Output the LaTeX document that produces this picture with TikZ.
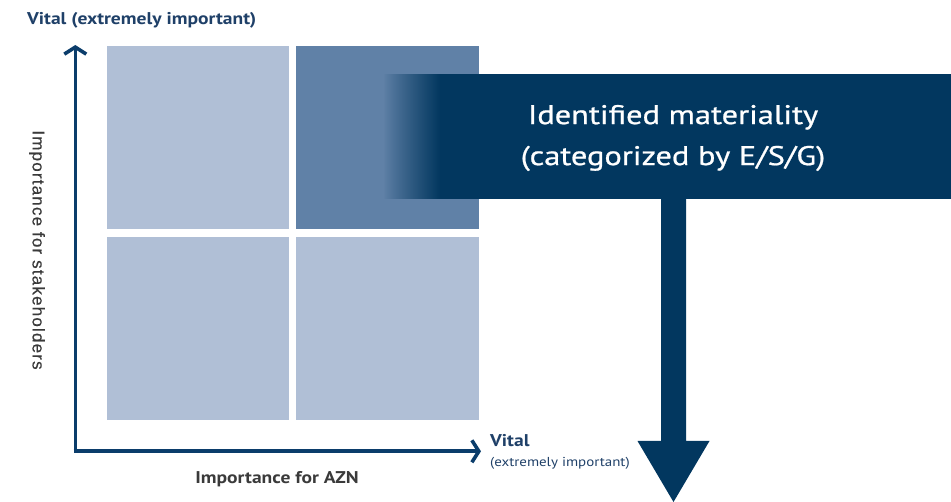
\documentclass[tikz,border=0pt]{standalone}
\usepackage{fontspec}
\setmainfont{PT Sans}
\newfontfamily\dinf[FakeStretch=1.15]{PT Sans}
\newfontfamily\dinbanner[FakeStretch=1.2, FakeBold=0.8]{PT Sans}
\newfontfamily\arialf[LetterSpace=7, FakeBold=0.4]{Liberation Sans}
\usetikzlibrary{arrows.meta}
\definecolor{sqlight}{HTML}{B0BFD6}
\definecolor{sqdark}{HTML}{6081A7}
\definecolor{navy}{HTML}{02375F}
\definecolor{axisblue}{HTML}{0B3D6B}
\definecolor{labelblue}{HTML}{1F4068}
\definecolor{darkgray}{HTML}{3A3A3A}
\tikzset{
  quad/.style={fill=sqlight, draw=none},
  axisline/.style={draw=axisblue, line width=3.6pt, -{Straight Barb[length=7pt,width=22pt,line width=3.6pt]}},
  vitallbl/.style={text=labelblue, font=\dinf\bfseries\fontsize{17}{19}\selectfont, inner sep=0pt},
  axislbl/.style={text=darkgray, inner sep=0pt},
}
\begin{document}
\begin{tikzpicture}[x=1pt,y=-1pt]
\useasboundingbox (0,0) rectangle (951,502);
% quadrants
\fill[quad] (107,46) rectangle (289,229);
\fill[sqdark] (296,46) rectangle (479,229);
\fill[quad] (107,237) rectangle (289,420);
\fill[quad] (296,237) rectangle (479,420);
% axes
\coordinate (origin) at (75.3,451.3);
\coordinate (ytop) at (75.3,45);
\coordinate (xend) at (481,451.3);
\draw[axisline, -] (75.3,453) -- (origin);
\draw[axisline] (origin) -- (ytop);
\draw[axisline] (73.5,451.3) -- (xend);
% banner
\fill[navy] (440,74) rectangle (951,199.5);
\foreach \i in {0,...,57} {
  \pgfmathsetmacro\p{100*(\i/57)^0.9}
  \fill[navy!\p!sqdark] (383+\i,74) rectangle (384.6+\i,199.5);
}
\fill[navy] (661,199) -- (686,199) -- (686,441) -- (709.5,441) -- (673.5,502) -- (637.5,441) -- (661,441) -- cycle;
\node[text=white, font=\dinbanner\fontsize{27}{41}\selectfont, align=center, inner sep=0pt] (banner) at (673,138) {Identified materiality\\(categorized by E/S/G)};
% labels
\node[vitallbl, anchor=base west] (topvital) at (27,25) {Vital (extremely important)};
\node[vitallbl, anchor=base west] (rvital) at (490,447) {Vital};
\node[vitallbl, anchor=base west, font=\dinf\fontsize{13}{15}\selectfont] (rext) at (490,467) {(extremely important)};
\node[axislbl, font=\dinf\bfseries\fontsize{17}{19}\selectfont, anchor=base] (xlbl) at (277,484) {Importance for AZN};
\node[axislbl, rotate=-90, font=\arialf\fontsize{17}{19}\selectfont] (ylbl) at (37,250) {Importance for stakeholders};
\end{tikzpicture}
\end{document}
